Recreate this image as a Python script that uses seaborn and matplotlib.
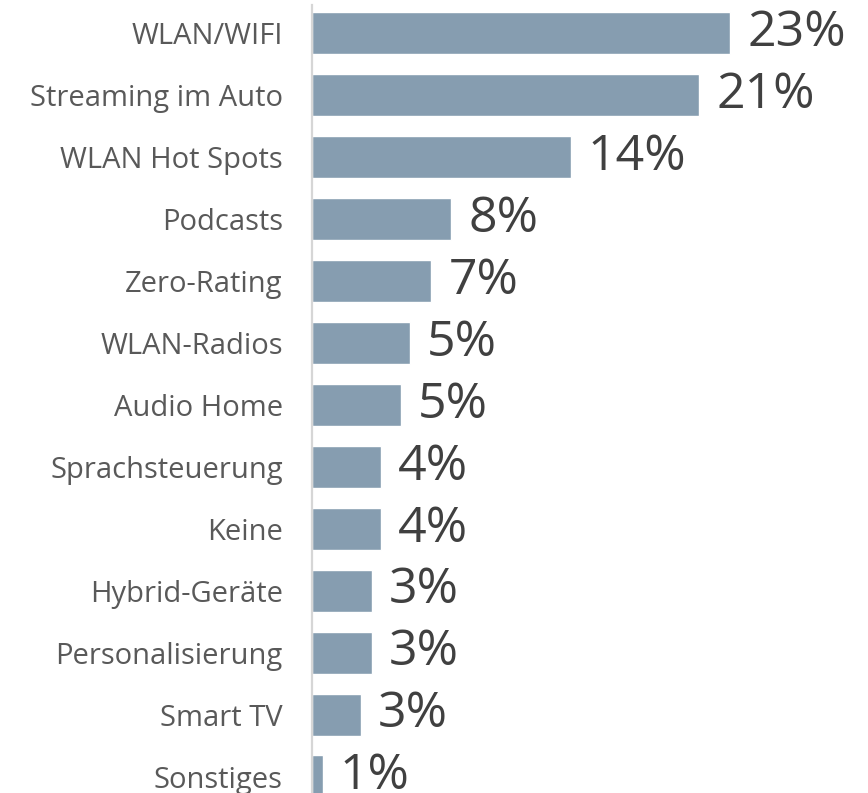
import matplotlib
matplotlib.use("Agg")
import matplotlib.pyplot as plt
import seaborn as sns
import pandas as pd

categories = [
    "WLAN/WIFI", "Streaming im Auto", "WLAN Hot Spots", "Podcasts",
    "Zero-Rating", "WLAN-Radios", "Audio Home", "Sprachsteuerung",
    "Keine", "Hybrid-Geräte", "Personalisierung", "Smart TV", "Sonstiges",
]
shares = [23.1, 21.4, 14.3, 7.7, 6.6, 5.4, 4.9, 3.8, 3.8, 3.3, 3.3, 2.7, 0.6]

df = pd.DataFrame({"Kategorie": categories, "Anteil": shares})

sns.set_theme(style="white")
plt.rcParams["font.family"] = ["Open Sans", "DejaVu Sans"]

fig = plt.figure(figsize=(8.68, 7.93), dpi=100)
ax = fig.add_axes([312 / 868, 0.0, 1 - 312 / 868, 1.0])

sns.barplot(data=df, x="Anteil", y="Kategorie", orient="h",
            color="#869DB0", saturation=1, width=0.68, ax=ax)

px_per_unit = 18.1
ax.set_xlim(0, (868 - 312) / px_per_unit)
ax.set_ylim(12.266, -0.539)

for i, v in enumerate(shares):
    ax.annotate(f"{v:.0f}%", xy=(v, i), xytext=(17, 0),
                textcoords="offset pixels", ha="left", va="center",
                fontsize=36, color="#404040")

ax.set_xlabel("")
ax.set_ylabel("")
ax.set_xticks([])
ax.tick_params(axis="y", length=0, pad=21, labelsize=21, labelcolor="#595959")
for s in ["top", "right", "bottom"]:
    ax.spines[s].set_visible(False)
ax.spines["left"].set_color("#d6d6d6")
ax.spines["left"].set_linewidth(1.6)
ax.spines["left"].set_bounds(12.266, -0.46)

fig.savefig("out.png", dpi=100)
